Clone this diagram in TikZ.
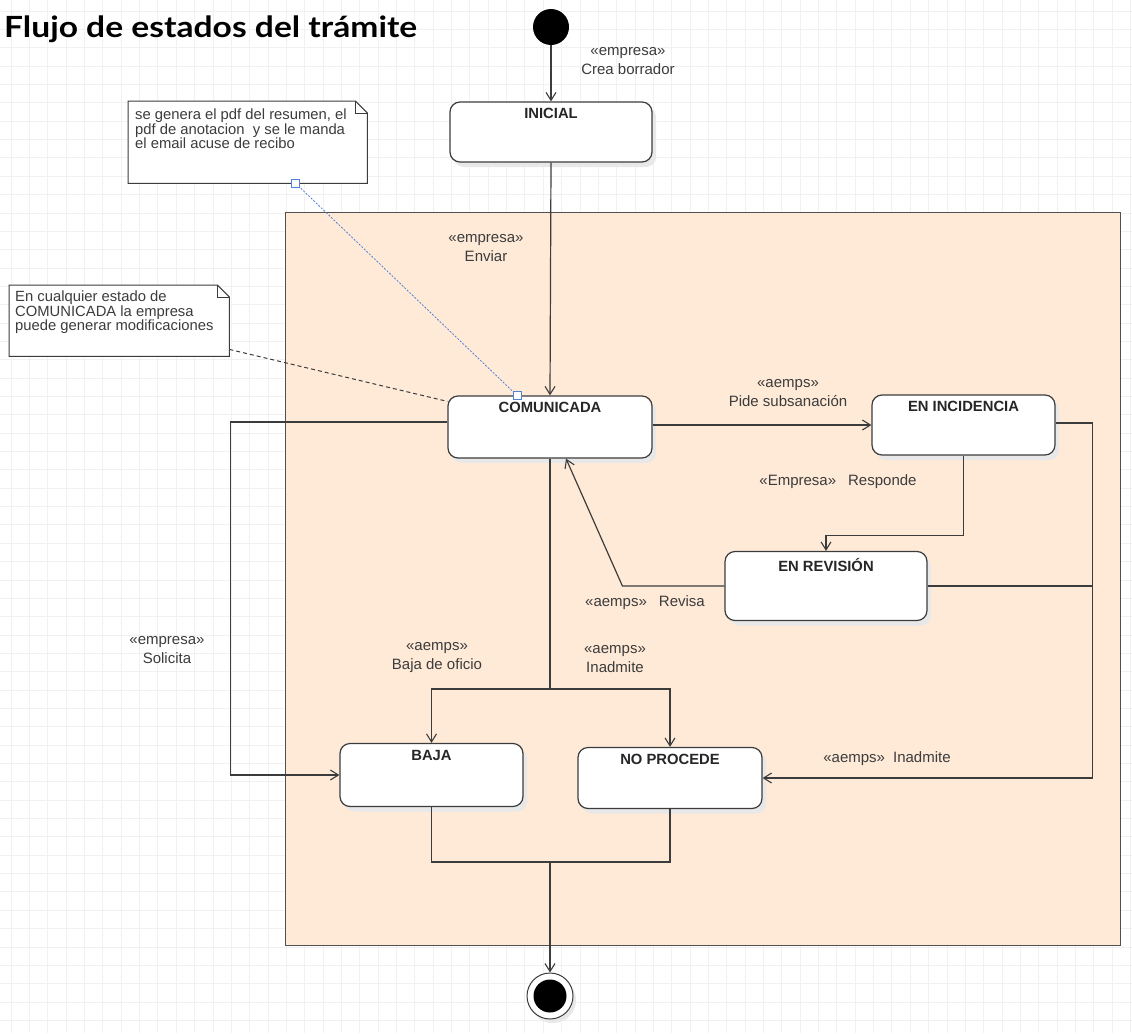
\documentclass[tikz,border=0pt]{standalone}
\usepackage{fontspec}
\setmainfont{Liberation Sans}
\newfontfamily\titlefont[FakeStretch=1.15]{Lato}
\usetikzlibrary{arrows.meta,calc,shadows}
\definecolor{peach}{RGB}{255,234,216}
\definecolor{ink}{RGB}{60,60,60}
\definecolor{gridc}{RGB}{241,241,241}
\definecolor{notelink}{RGB}{80,130,215}
\begin{document}
\begin{tikzpicture}[x=1pt,y=-1pt,
  font=\fontsize{15}{19}\selectfont,
  line/.style={draw=ink, line width=1.2pt},
  arr/.style={line, -{Straight Barb[length=8pt,width=10pt,line width=1.1pt]}},
  statebox/.style={draw=ink, line width=1.2pt, rounded corners=10pt, fill=white, inner sep=0pt,
    drop shadow={shadow xshift=4pt, shadow yshift=-5pt, fill=black!9, opacity=1}},
  statelabel/.style={font=\fontsize{14.8}{16}\selectfont\bfseries, text=black!85, anchor=north, yshift=-5pt, inner sep=2pt},
  lbl/.style={text=ink, align=center, inner sep=1pt},
  notebox/.style={inner sep=0pt},
  noteline/.style={draw=ink, line width=1pt},
  notetext/.style={font=\fontsize{14.8}{14.5}\selectfont, text=ink, align=left, anchor=north west, inner sep=0pt},
  sq/.style={draw=notelink, fill=white, minimum size=8pt, inner sep=0pt, line width=0.8pt},
]
\useasboundingbox (0,0) rectangle (1132,1033);
\fill[white] (0,0) rectangle (1132,1033);
% grid
\foreach \i in {0,...,61} { \draw[gridc, line width=0.7pt] ({11+18.35*\i},0) -- ({11+18.35*\i},1033); }
\foreach \j in {0,...,56} { \draw[gridc, line width=0.7pt] (0,{11+18.35*\j}) -- (1132,{11+18.35*\j}); }

% title
\node[anchor=base west, inner sep=0pt, font=\titlefont\bfseries\fontsize{29.2}{31}\selectfont] (title) at (4,38) {Flujo de estados del trámite};

% container
\node[draw=ink!90, fill=peach, line width=1.1pt, minimum width=835pt, minimum height=733pt, inner sep=0pt, anchor=north west] (cont) at (285,212) {};

% start
\node[circle, fill=black, minimum size=36pt, inner sep=0pt] (start) at (551,27) {};
\node[lbl] (lcrea) at (628,61) {«empresa»\\Crea borrador};

% states
\node[statebox, minimum width=202pt, minimum height=60pt, label={[statelabel]north:INICIAL}] (inicial) at (551,132) {};
\node[statebox, minimum width=204pt, minimum height=62pt, label={[statelabel]north:COMUNICADA}] (com) at (550,427) {};
\node[statebox, minimum width=183pt, minimum height=60pt, label={[statelabel]north:EN INCIDENCIA}] (inc) at (963.5,425) {};
\node[statebox, minimum width=202pt, minimum height=69pt, label={[statelabel]north:EN REVISIÓN}] (rev) at (826,586) {};
\node[statebox, minimum width=183pt, minimum height=63pt, label={[statelabel]north:BAJA}] (baja) at (431.5,775) {};
\node[statebox, minimum width=184pt, minimum height=61pt, label={[statelabel]north:NO PROCEDE}] (nop) at (670,778) {};

% final
\node[circle, draw=ink, line width=1pt, fill=white, minimum size=46pt, inner sep=0pt,
  drop shadow={shadow xshift=3pt, shadow yshift=-4pt, fill=black!9, opacity=1}] (fin) at (550,996) {};
\node[circle, fill=black, minimum size=33pt, inner sep=0pt] (finin) at (fin) {};

% notes
\node[notebox, minimum width=239pt, minimum height=82pt, anchor=north west] (n1) at (128,101) {};
\filldraw[noteline, fill=white] (n1.south west) -- (n1.north west) -- ([xshift=-12pt]n1.north east) -- ([yshift=-12pt]n1.north east) -- (n1.south east) -- cycle;
\draw[noteline] ([xshift=-12pt]n1.north east) |- ([yshift=-12pt]n1.north east);
\node[notetext] (t1) at ([shift={(7,8)}]n1.north west) {se genera el pdf del resumen, el\\pdf de anotacion~ y se le manda\\el email acuse de recibo};

\node[notebox, minimum width=220pt, minimum height=71pt, anchor=north west] (n2) at (9,285) {};
\filldraw[noteline, fill=white] (n2.south west) -- (n2.north west) -- ([xshift=-12pt]n2.north east) -- ([yshift=-12pt]n2.north east) -- (n2.south east) -- cycle;
\draw[noteline] ([xshift=-12pt]n2.north east) |- ([yshift=-12pt]n2.north east);
\node[notetext] (t2) at ([shift={(6,6)}]n2.north west) {En cualquier estado de\\COMUNICADA la empresa\\puede generar modificaciones};

% note links
\coordinate (p1) at ([xshift=48pt]n1.south);
\coordinate (p2) at ([xshift=-33pt]com.north);
\draw[notelink, line width=0.8pt, dash pattern=on 2pt off 1.5pt] (p1) -- (p2);
\node[sq] (sq1) at (p1) {};
\node[sq] (sq2) at (p2) {};
\draw[ink, line width=1pt, dash pattern=on 4pt off 3pt] ([yshift=7pt]n2.south east) -- ([yshift=-6pt]com.north west);

% transitions
\draw[arr] (start) -- (inicial.north);
\draw[arr] (inicial.south) -- (com.north);
\node[lbl] (lenv) at (486,248) {«empresa»\\Enviar};

\draw[arr] (inc.west -| com.east) -- (inc.west);
\node[lbl] (lpide) at (788,393) {«aemps»\\Pide subsanación};

\draw[arr] (inc.south) -- ++(0,80) -| (rev.north);
\node[lbl] (lresp) at (838,482) {«Empresa»\hspace{12pt}Responde};

\draw[arr] (rev.west) -- ++(-102,0) -- ([xshift=16pt]com.south);
\node[lbl] (lrev) at (645,603) {«aemps»\hspace{12pt}Revisa};

\draw[arr] ([yshift=2pt]inc.east) -- ++(37,0) coordinate (rc) |- (nop.east);
\draw[line] (rev.east) -- (rev.east -| rc);
\node[lbl] (linad2) at (887,759) {«aemps»\hspace{8pt}Inadmite};

\coordinate (split) at (550,689);
\draw[line] (com.south) -- (split);
\draw[arr] (split) -| (baja.north);
\draw[arr] (split) -| (nop.north);
\node[lbl] (lbajaof) at (437,658) {«aemps»\\Baja de oficio};
\node[lbl] (linad) at (615,659) {«aemps»\\Inadmite};

\draw[arr] ([yshift=5pt]com.west) -- ++(-217,0) |- (baja.west);
\node[lbl] (lsol) at (167,650) {«empresa»\\Solicita};

\coordinate (join) at (550,862);
\draw[line] (baja.south) |- (join) -| (nop.south);
\draw[arr] (join) -- (fin);
\end{tikzpicture}
\end{document}
